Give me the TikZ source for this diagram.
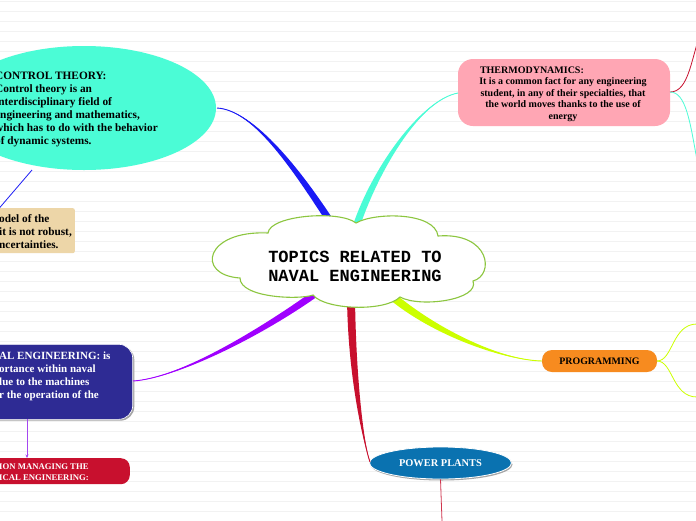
\documentclass[tikz,border=0pt]{standalone}
\usepackage{fontspec}
\setmainfont{Liberation Serif}
\newfontfamily\monofont{Liberation Mono}
\usetikzlibrary{shapes.geometric,calc,arrows.meta}
\definecolor{ctcyan}{RGB}{75,252,214}
\definecolor{tanbg}{RGB}{237,214,168}
\definecolor{pinkbg}{RGB}{255,166,180}
\definecolor{navybg}{RGB}{46,43,148}
\definecolor{crimson}{RGB}{200,16,46}
\definecolor{ppblue}{RGB}{10,114,176}
\definecolor{orangebg}{RGB}{247,139,31}
\definecolor{limec}{RGB}{204,255,0}
\definecolor{purplec}{RGB}{160,0,255}
\definecolor{arrowpurple}{RGB}{165,70,240}
\definecolor{bluec}{RGB}{26,26,245}
\definecolor{cloudgreen}{RGB}{140,198,63}
\definecolor{rulec}{RGB}{242,242,242}
\newcommand\taperbranch[6]{%
  \coordinate (tbA) at ($(#4)!#5!90:(#3)$);
  \coordinate (tbB) at ($(#4)!#5!-90:(#3)$);
  \fill[#6] (#1) .. controls (#2) and ($(#3)+(tbA)-(#4)$) .. (tbA) -- (tbB) .. controls ($(#3)+(tbB)-(#4)$) and (#2) .. (#1) -- cycle;
  \draw[#6, line width=0.9pt] (#1) .. controls (#2) and (#3) .. (#4);
}
\tikzset{
  boldtext/.style={font=\bfseries\fontsize{11.3}{13}\selectfont, inner sep=0pt, align=left},
  thinlink/.style={line width=0.8pt},
  cloudline/.style={draw=cloudgreen, fill=white, line width=1.1pt},
}
\begin{document}
\begin{tikzpicture}[x=1pt,y=-1pt]
\useasboundingbox (0,0) rectangle (696,520);
\fill[white] (0,0) rectangle (696,520);
\foreach \yy in {1,11,...,511} \draw[rulec, line width=0.7pt] (0,\yy) -- (696,\yy);

% control theory
\node[ellipse, fill=ctcyan, minimum width=264pt, minimum height=124pt, inner sep=0pt] (ct) at (84,108) {};
\node[boldtext, anchor=north west] (ctt) at (-5,72.3) {CONTROL THEORY:\\Control theory is an\\interdisciplinary field of\\engineering and mathematics,\\which has to do with the behavior\\of dynamic systems.};

% tan box
\node[fill=tanbg, rounded corners=2pt, minimum width=90pt, minimum height=45pt, anchor=north east, inner sep=0pt] (tan) at (75,208) {};
\node[boldtext, anchor=north west] (tant) at (-1,214.5) {odel of the\\it is not robust,\\ncertainties.};
\coordinate (ctlow) at (32,170);
\coordinate (tanin) at (-4,212);
\draw[bluec, thinlink] (ctlow) -- (tanin);

% thermodynamics
\node[fill=pinkbg, rounded corners=15pt, minimum width=212pt, minimum height=67pt, inner sep=0pt] (thermo) at (564,92.5) {};
\node[font=\bfseries\fontsize{10}{11.5}\selectfont, align=center, inner sep=0pt] (thermot) at (563,94) {\makebox[166pt][l]{THERMODYNAMICS:}\\It is a common fact for any engineering\\student, in any of their specialties, that\\the world moves thanks to the use of\\energy};
\coordinate (thr) at (670,92);
\coordinate (thrup) at (697,44);
\coordinate (thrdn) at (697,160);
\draw[crimson, thinlink] (thr) .. controls (686,92) and (690,68) .. (thrup);
\draw[ctcyan, thinlink] (thr) .. controls (686,92) and (690,122) .. (thrdn);

% navy box
\node[fill=black!35, rounded corners=14pt, minimum width=170pt, minimum height=75pt, anchor=north east, inner sep=0pt] (eesh) at (134.5,345.5) {};
\node[fill=navybg, draw=white, line width=0.6pt, rounded corners=14pt, minimum width=170pt, minimum height=75pt, anchor=north east, inner sep=0pt] (ee) at (133,344) {};
\node[boldtext, text=white, font=\bfseries\fontsize{11}{13}\selectfont, anchor=north west] (eet) at (-1,351.3) {AL ENGINEERING: is\\ortance within naval\\lue to the machines\\r the operation of the};

% red box
\node[fill=crimson, rounded corners=9pt, minimum width=160pt, minimum height=26pt, anchor=north east, inner sep=0pt] (mgmt) at (130,458) {};
\node[boldtext, text=white, font=\bfseries\fontsize{8.7}{11}\selectfont, anchor=north west] (mgmtt) at (-1,463.2) {ION MANAGING THE\\ICAL ENGINEERING:};
\coordinate (eedown) at (27,419);
\coordinate (mgmtup) at (27,458);
\draw[arrowpurple, thinlink, -{Stealth[length=3.5pt,width=3pt]}] (eedown) -- (mgmtup);

% programming
\node[fill=orangebg, rounded corners=10pt, minimum width=115pt, minimum height=22pt, inner sep=0pt, font=\bfseries\fontsize{9.9}{11}\selectfont] (prog) at (599.5,361) {PROGRAMMING};
\coordinate (progr) at (657,361);
\coordinate (progup) at (697,324);
\coordinate (progdn) at (697,397);
\draw[limec, thinlink] (progr) .. controls (673,361) and (672,324) .. (progup);
\draw[limec, thinlink] (progr) .. controls (673,361) and (672,397) .. (progdn);

% power plants
\node[ellipse, fill=black!35, minimum width=142pt, minimum height=32pt, inner sep=0pt] (ppsh) at (441.5,464.5) {};
\node[ellipse, fill=ppblue, draw=white, line width=0.8pt, minimum width=142pt, minimum height=32pt, inner sep=0pt, text=white, font=\bfseries\fontsize{10.4}{12}\selectfont] (pp) at (440.5,463) {POWER PLANTS};
\coordinate (ppdown) at (442,521);
\draw[crimson!85, thinlink] (pp.south) -- (ppdown);

% branches from the centre
\coordinate (bA) at (217,108); \coordinate (bc1) at (255,110); \coordinate (bc2) at (300,175); \coordinate (bB) at (332,224);
\taperbranch{bA}{bc1}{bc2}{bB}{3.5pt}{bluec}
\coordinate (cA) at (458,93); \coordinate (cc1) at (420,100); \coordinate (cc2) at (375,170); \coordinate (cB) at (356,227);
\taperbranch{cA}{cc1}{cc2}{cB}{3.5pt}{ctcyan}
\coordinate (pA) at (133,381); \coordinate (pc1) at (180,378); \coordinate (pc2) at (265,330); \coordinate (pB) at (319,291);
\taperbranch{pA}{pc1}{pc2}{pB}{3.5pt}{purplec}
\coordinate (rA) at (370,462); \coordinate (rc1) at (364,445); \coordinate (rc2) at (352,380); \coordinate (rB) at (351,298);
\taperbranch{rA}{rc1}{rc2}{rB}{4pt}{crimson}
\coordinate (lA) at (542,361); \coordinate (lc1) at (500,360); \coordinate (lc2) at (430,330); \coordinate (lB) at (387,292);
\taperbranch{lA}{lc1}{lc2}{lB}{4pt}{limec}

% centre cloud
\path[cloudline] (240,278) .. controls (195,275) and (205,230) .. (268,233)
  .. controls (270,215) and (340,210) .. (356,223)
  .. controls (375,212) and (435,212) .. (438,236)
  .. controls (490,232) and (495,275) .. (473,281)
  .. controls (480,300) and (420,308) .. (400,297)
  .. controls (385,312) and (325,310) .. (313,295)
  .. controls (300,300) and (240,298) .. (240,278) -- cycle;
\node[font=\monofont\bfseries\fontsize{17}{19}\selectfont, align=center, inner sep=0pt] (topic) at (355,266.5) {TOPICS RELATED TO\\NAVAL ENGINEERING};
\end{tikzpicture}
\end{document}
